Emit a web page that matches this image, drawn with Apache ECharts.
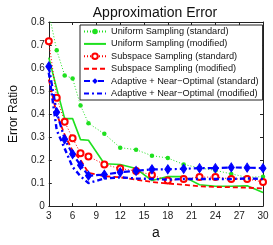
<!DOCTYPE html>
<html><head><meta charset="utf-8">
<script src="https://cdn.jsdelivr.net/npm/echarts@6/dist/echarts.min.js"></script>
<style>html,body{margin:0;padding:0;background:#fff}#c{width:273px;height:245px}</style>
</head><body><div id="c"></div>
<script>
const aValues = [3,4,5,6,7,8,10,12,14,16,18,20,22,24,26,28,30];
const uniformStd = [0.84,0.677,0.568,0.555,0.437,0.36,0.314,0.254,0.245,0.219,0.209,0.181,0.166,0.155,0.14,0.125,0.128];
const uniformMod = [0.645,0.51,0.38,0.38,0.289,0.286,0.184,0.181,0.163,0.111,0.128,0.128,0.093,0.086,0.086,0.088,0.059];
const subspaceStd = [0.716,0.471,0.366,0.295,0.23,0.216,0.181,0.163,0.153,0.135,0.111,0.118,0.126,0.126,0.118,0.118,0.105];
const subspaceMod = [0.55,0.40,0.31,0.24,0.2,0.145,0.13,0.125,0.115,0.105,0.098,0.093,0.086,0.083,0.082,0.08,0.077];
const adaptiveStd = [0.607,0.408,0.29,0.226,0.178,0.132,0.137,0.147,0.153,0.16,0.16,0.162,0.165,0.165,0.168,0.167,0.165];
const adaptiveMod = [0.58,0.33,0.25,0.17,0.13,0.10,0.12,0.125,0.12,0.118,0.115,0.118,0.118,0.118,0.118,0.12,0.118];
const seriesNames = ['Uniform Sampling (standard)','Uniform Sampling (modified)','Subspace Sampling (standard)','Subspace Sampling (modified)','Adaptive + Near\u2212Optimal (standard)','Adaptive + Near\u2212Optimal (modified)'];
const xTicks = {min:3, max:30, interval:3};
const yTicks = {min:0, max:0.8, interval:0.1};

const pair = arr => aValues.map((a,i)=>[a,arr[i]]);
const GREEN='#1fe01f', RED='#ff0000', BLUE='#0000ff', NONE='rgba(0,0,0,0)';
const font = 'Liberation Sans, Arial, sans-serif';
const chart = echarts.init(document.getElementById('c'));
const axisCommon = {
  axisLine:{show:true,onZero:false,lineStyle:{color:'#222',width:1}},
  axisTick:{show:true,inside:true,length:3,lineStyle:{color:'#222'}},
  splitLine:{show:false}
};
chart.setOption({
  animation:false,
  title:{text:'Approximation Error',left:150,textAlign:'center',top:1,
    textStyle:{fontFamily:font,fontSize:14,fontWeight:'normal',color:'#111'}},
  grid:{left:36,right:10,top:22,bottom:32},
  legend:{orient:'vertical',left:80,top:25,
    backgroundColor:'#fff',borderColor:'#222',borderWidth:1,padding:[2,4,2,3],
    itemWidth:22,itemHeight:7,itemGap:3.4,
    textStyle:{fontFamily:font,fontSize:9.2,color:'#111'},
    data:seriesNames},
  xAxis:[
    Object.assign({type:'value',min:xTicks.min,max:xTicks.max,interval:xTicks.interval,
      name:'a',nameLocation:'middle',nameGap:19,
      nameTextStyle:{fontFamily:font,fontSize:14,color:'#111'},
      axisLabel:{fontFamily:font,fontSize:10,color:'#222',margin:5}},axisCommon),
    Object.assign({type:'value',position:'top',min:xTicks.min,max:xTicks.max,interval:xTicks.interval,
      axisLabel:{show:false}},axisCommon)
  ],
  yAxis:[
    Object.assign({type:'value',min:yTicks.min,max:yTicks.max,interval:yTicks.interval,
      name:'Error Ratio',nameLocation:'middle',nameGap:25,
      nameTextStyle:{fontFamily:font,fontSize:12,color:'#111'},
      axisLabel:{fontFamily:font,fontSize:10,color:'#222',margin:4,
        formatter:v=>v===0?'0':v.toFixed(1)}},axisCommon),
    Object.assign({type:'value',position:'right',min:yTicks.min,max:yTicks.max,interval:yTicks.interval,
      axisLabel:{show:false}},axisCommon)
  ],
  series:[
    {name:seriesNames[0],type:'line',data:pair(uniformStd),symbol:'circle',symbolSize:4.5,
      lineStyle:{color:GREEN,width:1,type:[1,2]},itemStyle:{color:GREEN},z:2},
    {name:seriesNames[1],type:'line',data:pair(uniformMod),symbol:'circle',showSymbol:false,
      lineStyle:{color:GREEN,width:1.6},itemStyle:{color:NONE,borderColor:NONE},z:3},
    {name:seriesNames[2],type:'line',data:pair(subspaceStd),symbol:'emptyCircle',symbolSize:6,
      lineStyle:{color:RED,width:1,type:[1,2]},itemStyle:{color:RED,borderWidth:1.6},z:4},
    {name:seriesNames[3],type:'line',data:pair(subspaceMod),symbol:'circle',showSymbol:false,
      lineStyle:{color:RED,width:1.8,type:[5,3]},itemStyle:{color:NONE,borderColor:NONE},z:4},
    {name:seriesNames[4],type:'line',data:pair(adaptiveStd),symbol:'diamond',symbolSize:[6,9],
      lineStyle:{color:BLUE,width:2.2,type:[6,3,2,3]},itemStyle:{color:BLUE,borderColor:BLUE},z:5},
    {name:seriesNames[5],type:'line',data:pair(adaptiveMod),symbol:'circle',showSymbol:false,
      lineStyle:{color:BLUE,width:2.4,type:[5,3,2,3]},itemStyle:{color:NONE,borderColor:NONE},z:5}
  ]
});
</script></body></html>
